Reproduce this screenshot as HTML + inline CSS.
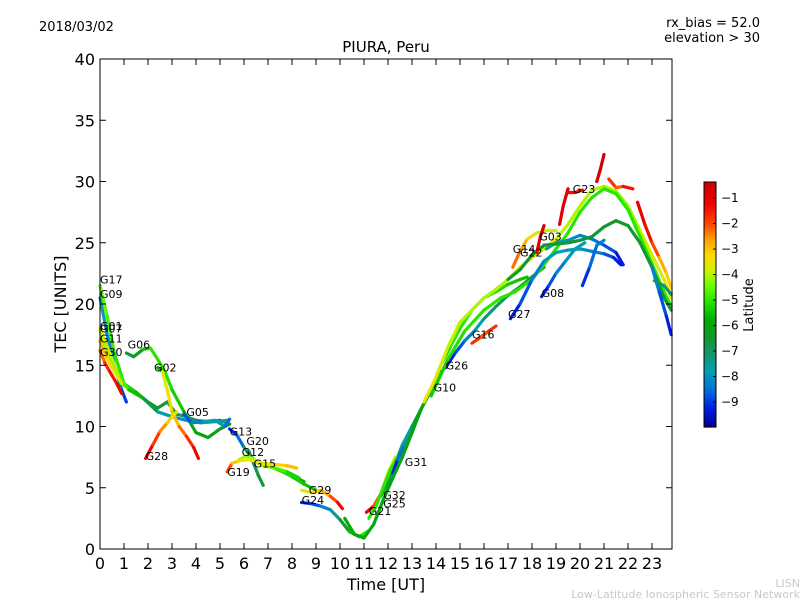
<!DOCTYPE html>
<html><head><meta charset="utf-8">
<style>
body{margin:0;background:#fff;}
svg{display:block;font-family:"DejaVu Sans","Liberation Sans",sans-serif;}
</style></head>
<body>
<svg id="chart" width="800" height="600" xmlns="http://www.w3.org/2000/svg">
<defs>
<linearGradient id="cbgrad" x1="0" y1="1" x2="0" y2="0"></linearGradient>
</defs>
<rect width="800" height="600" fill="#fff"/>
<text x="39" y="31" font-size="13">2018/03/02</text>
<text x="760" y="27" font-size="13" text-anchor="end">rx_bias = 52.0</text>
<text x="760" y="42" font-size="13" text-anchor="end">elevation &gt; 30</text>
<text x="386" y="52" font-size="15" text-anchor="middle">PIURA, Peru</text>
<text x="386" y="590" font-size="16" text-anchor="middle">Time [UT]</text>
<text transform="translate(66,304) rotate(-90)" font-size="16" text-anchor="middle">TEC [UNITS]</text>
<text x="800" y="587" font-size="11" fill="#c8c8c8" text-anchor="end">LISN</text>
<text x="800" y="598" font-size="11" fill="#c8c8c8" text-anchor="end">Low-Latitude Ionospheric Sensor Network</text>
<g id="tracks"></g>
<g id="labels"></g>
<g id="axes"></g>
<g id="cbar"></g>
<text transform="translate(753,305) rotate(-90)" font-size="13" text-anchor="middle">Latitude</text>
</svg>
<script>
const NS="http://www.w3.org/2000/svg";
const xTicks=[0,1,2,3,4,5,6,7,8,9,10,11,12,13,14,15,16,17,18,19,20,21,22,23];
const yTicks=[0,5,10,15,20,25,30,35,40];
const cbTicks=[-1,-2,-3,-4,-5,-6,-7,-8,-9];
const latMin=-9.98, latMax=-0.37;
const trackNames=["G17","G09","G01","G07","G11","G30","G06","G02","G28","G05","G13","G20","G12","G15","G19","G29","G24","G21","G32","G25","G31","G10","G26","G16","Y1","G03","G27","G08","B1","T1","DG","G14","S1","S2","S3","G23","O1","R1","B2","T2"];
const trackTimes=[
[0,0.3,0.6,1,1.5,2,2.4,2.8,3.2,3.6,4,4.5,5,5.4],
[0,0.3,0.6,0.9,1.1],
[0,0.3,0.7,1.0],
[0,0.4,0.8,1.2,1.8,2.4,3,3.6,4.2,4.8,5.3],
[0,0.3,0.6,0.9],
[0,0.2,0.4,0.7,0.9],
[1.1,1.4,1.8,2.1,2.4,2.7,3.0,3.5,4.0,4.5,5.0,5.4],
[2.4,2.6,2.8,3.0,3.3,3.6,3.9,4.1],
[1.9,2.2,2.5,2.8,3.0,3.2],
[3.5,3.8,4.3,4.8,5.2,5.4],
[5.4,5.7,6.0,6.3,6.6,7,7.5,8,8.5],
[6.2,6.4,6.6,6.8],
[5.8,6.1,6.5,7,7.5,8,8.5,9],
[6.3,6.8,7.3,7.8,8.3],
[5.3,5.5,5.8,6.2,6.8,7.3,7.8,8.2],
[8.4,8.8,9.2,9.6,9.9,10.1],
[8.4,8.8,9.2,9.6,10,10.4,10.8,11.2],
[11.1,11.4,11.7,12,12.3],
[11.7,12,12.3,12.6,13],
[11.2,11.5,11.8,12.1,12.4],
[12.2,12.4,12.7,13,13.4,13.8,14.2],
[10.2,10.6,11,11.4,11.8,12.2,12.6,13,13.4,13.8,14.2,14.6,15,15.5,16,16.5,17,17.5,17.8],
[14.4,14.8,15.2,15.6,16,16.5,17,17.5,18,18.5],
[15.5,15.8,16.2,16.5],
[13.5,14,14.5,15,15.5,16,16.5,17,17.5,18,18.5,19,19.5,20,20.5,21,21.5,22,22.5,23,23.5,23.8],
[13.8,14.5,15.2,16,16.7,17.3,18,18.5,19,19.5,20,20.5,21,21.5,22,22.5,23,23.5,23.8],
[17.1,17.5,18,18.5,19,19.5,20,20.5,21,21.4,21.7],
[18.4,18.7,19,19.4,19.8,20.2],
[20.1,20.4,20.7,21],
[18.6,19,19.5,20,20.5,21,21.5,21.8],
[17,17.5,18,18.5,19,19.5,20,20.5,21,21.5,22,22.5,23,23.5,23.8],
[17.2,17.5,17.8,18.2,18.6,19],
[18.2,18.35,18.5],
[19.15,19.3,19.5],
[20.7,20.85,21],
[19.5,19.8,20.1],
[21.2,21.5,21.8,22.2],
[22.4,22.7,23,23.3,23.6,23.8],
[23,23.3,23.6,23.8],
[23.1,23.5,23.8]
];
const trackTec=[
[21.5,19,16,13.5,12.8,12,11.5,12,11,10.8,10.5,10.4,10.5,10.2],
[20.5,17.5,15,13,12],
[18,16.5,14.5,13.3],
[17.8,15.5,14,13,12.3,11.2,10.8,10.5,10.3,10.4,10.5],
[17,15.5,14.5,13.5],
[16.2,15.2,14.5,13.5,12.7],
[16.0,15.7,16.3,16.4,15.5,14.5,13,11.2,9.5,9.1,9.8,10.2],
[14.8,14.5,13,11.2,10,9.2,8.3,7.4],
[7.4,8.5,9.6,10.3,10.8,11.2],
[11.0,10.3,10.4,10.5,10.0,10.6],
[9.8,9.3,8.3,7.5,7,6.8,6.4,6,5.5],
[8.0,7,6,5.2],
[7.3,7.6,7.2,6.8,6.4,5.9,5.3,4.8],
[7.4,6.8,6.6,6.3,5.8],
[6.3,7.0,7.2,7.3,7.0,6.9,6.8,6.6],
[4.8,4.6,4.8,4.3,3.8,3.3],
[3.8,3.7,3.5,3.2,2.4,1.4,1.0,1.5],
[3.0,3.5,4.5,6.2,7.5],
[4.3,5.5,7,8.5,10],
[2.5,3.5,5,6.5,7.5],
[6.2,7.3,8.5,10,11.5,13,14.5],
[2.5,1.2,0.9,2,4,5.8,7.5,9.5,11.5,13,15,16.5,18,19.5,20.5,21,21.6,22,22.2],
[14.8,16,17,17.8,18.8,19.8,20.7,21.4,22.2,23],
[16.8,17.2,17.8,18.2],
[12,14,16.5,18.5,19.5,20.5,21.2,22,23,23.8,24.5,25.3,26.5,28,29.3,29.6,29.2,28,26,24,22,20.5],
[12.5,15.5,17.8,19.5,20.5,21,22,23.2,24.5,25.8,27.5,28.7,29.4,29,27.7,25.5,23.3,21,19.8],
[18.8,20,22,23.5,24.2,24.4,24.5,24.3,24.1,23.8,23.2],
[20.6,21.5,22.5,23.5,24.5,25],
[21.5,23,24.8,25.2],
[24.5,25,25.2,25.6,25.3,24.8,24.2,23.2],
[22,22.8,24,24.8,24.9,25,25.2,25.5,26.3,26.8,26.4,25,23,20.5,19.5],
[23,24.3,25.3,25.8,26,26],
[24.2,25.5,26.4],
[26.5,28,29.4],
[30,31,32.2],
[29.1,29.1,29.3],
[30.2,29.5,29.6,29.4],
[28.3,26.5,25,23.8,22.5,21.3],
[23,21,19,17.5],
[21.9,21.5,20.8]
];
const trackLat=[
[-4.5,-4.5,-5,-5,-5.5,-6,-6.5,-6.5,-7,-7,-7,-6.5,-6.5,-7],
[-7.5,-8,-8,-8.5,-9.3],
[-3.2,-3.5,-4,-4.5],
[-4,-4,-4.5,-5,-6,-7.5,-8,-8,-7.5,-7.5,-7.5],
[-2.8,-3,-3.5,-4],
[-2.5,-2,-1.3,-1.5,-1],
[-6.5,-6.5,-6,-5,-5,-5,-5.2,-5.5,-6,-6,-6,-7],
[-7.5,-4,-3.5,-3.2,-2.5,-2,-1.5,-1],
[-1,-1.5,-2.2,-2.8,-3.3,-3.8],
[-9,-8.5,-8,-7.5,-8,-9],
[-9.3,-9,-8,-6,-5.5,-5.5,-6,-6,-6],
[-7.5,-7,-6.5,-6.5],
[-4,-4,-4.5,-5,-5,-5.2,-5.5,-5.5],
[-3.5,-4,-4.5,-5,-5.5],
[-1.5,-2.5,-3.5,-3.8,-3.5,-3.2,-3,-2.8],
[-4,-3.5,-3,-2.5,-1.5,-1],
[-9.3,-9,-8.5,-8,-7,-6,-5,-5],
[-1,-1.5,-2.5,-3.5,-4],
[-6,-6.5,-7,-7.5,-8],
[-5,-5,-5,-5,-5],
[-9.5,-9,-8,-7,-6.5,-6,-5.5],
[-5.5,-6,-6,-6,-6,-6,-6,-6,-6,-6,-5.5,-5,-5,-5,-5,-5,-5.3,-5.5,-5.5],
[-9.5,-9,-8.5,-8,-7.5,-7,-6.8,-6.5,-6.5,-6.5],
[-1.5,-2,-2,-1.5],
[-3.5,-3.6,-3.8,-4,-4,-4,-4,-4,-3.8,-3.5,-3.5,-3.8,-4,-4,-4,-4,-4.2,-4.2,-4,-3.8,-3.6,-3.5],
[-5.5,-5.2,-5,-5,-5,-5,-5,-5,-5,-5,-5,-5,-5,-5,-5,-5,-5,-5,-5],
[-9.5,-9,-8.5,-8,-7.8,-7.8,-8,-8,-8.5,-9,-9.5],
[-9.5,-9,-8.5,-8,-7.8,-7.8],
[-9.3,-8.8,-8.3,-8],
[-7.5,-7.8,-8,-8,-8.3,-8.5,-9,-9.5],
[-6.3,-6.3,-6.5,-6.5,-6.5,-6.5,-6.5,-6.5,-6.5,-6.5,-6.5,-6.5,-6.5,-6.5,-6.5],
[-2,-2.5,-3,-3.5,-3.8,-4],
[-1,-0.7,-0.5],
[-1,-0.8,-0.6],
[-0.8,-0.6,-0.5],
[-1.3,-1.3,-1.3],
[-1,-2.5,-1.8,-1],
[-1,-1.2,-1.5,-2.5,-3,-3.2],
[-8,-8.5,-9,-9.5],
[-7,-7,-7]
];
const labelText=["G17","G09","G01","G07","G11","G30","G06","G02","G05","G28","G13","G20","G12","G15","G19","G29","G24","G21","G32","G25","G31","G10","G26","G16","G27","G08","G14","G22","G03","G23"];
const labelT=[0,0,0,0,0,0,1.15,2.25,3.6,1.9,5.4,6.1,5.9,6.4,5.3,8.7,8.4,11.2,11.8,11.8,12.7,13.9,14.4,15.5,17.0,18.4,17.2,17.5,18.3,19.7];
const labelTec=[22.0,20.8,18.2,18.0,17.2,16.1,16.7,14.8,11.2,7.6,9.6,8.8,7.9,7.0,6.3,4.8,4.0,3.1,4.4,3.7,7.1,13.2,15.0,17.5,19.2,20.9,24.5,24.2,25.5,29.4];

const X0=100,X1=672,Y0=549,Y1=59;
function xs(t){return X0+24*t;}
function ys(v){return Y0-12.25*v;}
const stops=[[-9.98,[0,0,140]],[-9.2,[0,30,230]],[-8.5,[0,110,220]],[-7.8,[0,160,180]],[-7.1,[20,150,110]],[-6.5,[20,150,50]],[-5.8,[0,170,0]],[-5,[40,230,0]],[-4.4,[110,255,0]],[-3.8,[210,240,0]],[-3.2,[255,215,0]],[-2.6,[255,160,0]],[-2,[255,70,0]],[-1.2,[240,0,0]],[-0.37,[200,0,0]]];
function col(l){
  if(l<=stops[0][0])return "rgb("+stops[0][1]+")";
  for(let i=1;i<stops.length;i++){if(l<=stops[i][0]){const a=stops[i-1],b=stops[i];const f=(l-a[0])/(b[0]-a[0]);
    return "rgb("+a[1].map((c,k)=>Math.round(c+(b[1][k]-c)*f)).join(",")+")";}}
  return "rgb("+stops[stops.length-1][1]+")";
}
const tg=document.getElementById("tracks");
trackNames.forEach((nm,i)=>{
  const g=document.createElementNS(NS,"g");
  
  
  const T=trackTimes[i],V=trackTec[i],L=trackLat[i];
  for(let j=1;j<T.length;j++){
    const ln=document.createElementNS(NS,"line");
    
    
    ln.setAttribute("x1",xs(T[j-1]));ln.setAttribute("y1",ys(V[j-1]));
    ln.setAttribute("x2",xs(T[j]));ln.setAttribute("y2",ys(V[j]));
    ln.setAttribute("stroke",col((L[j-1]+L[j])/2));
    ln.setAttribute("stroke-width","3.2");ln.setAttribute("stroke-linecap","round");
    g.appendChild(ln);
  }
  tg.appendChild(g);
});
const lg=document.getElementById("labels");
labelText.forEach((s,i)=>{
  const t=document.createElementNS(NS,"text");
  
  
  t.setAttribute("x",xs(labelT[i]));t.setAttribute("y",ys(labelTec[i])+4);
  t.setAttribute("font-size","11");t.textContent=s;lg.appendChild(t);
});
const ag=document.getElementById("axes");
function mk(tag,attrs,name){const e=document.createElementNS(NS,tag);for(const k in attrs)e.setAttribute(k,attrs[k]);
  
  
  ag.appendChild(e);return e;}
mk("rect",{x:X0,y:Y1,width:X1-X0,height:Y0-Y1,fill:"none",stroke:"#000","stroke-width":1},"plot-frame");
xTicks.forEach(v=>{const x=xs(v);
  mk("line",{x1:x,y1:Y0,x2:x,y2:Y0-6,stroke:"#000"},"x-tick");
  mk("line",{x1:x,y1:Y1,x2:x,y2:Y1+6,stroke:"#000"},"x-tick-top");
  const t=mk("text",{x:x,y:Y0+20,"font-size":16,"text-anchor":"middle"},"x-tick-label");t.textContent=v;});
yTicks.forEach(v=>{const y=ys(v);
  mk("line",{x1:X0,y1:y,x2:X0+6,y2:y,stroke:"#000"},"y-tick");
  mk("line",{x1:X1,y1:y,x2:X1-6,y2:y,stroke:"#000"},"y-tick-right");
  const t=mk("text",{x:X0-5,y:y+6,"font-size":16,"text-anchor":"end"},"y-tick-label");t.textContent=v;});
// colorbar
const cb=document.getElementById("cbar");
const CX=704,CW=12,CT=182,CB=427;
function cy(l){return CB-(l-latMin)/(latMax-latMin)*(CB-CT);}
for(let k=0;k<120;k++){const l0=latMin+(latMax-latMin)*k/120,l1=latMin+(latMax-latMin)*(k+1)/120;
  const r=document.createElementNS(NS,"rect");
  
  
  r.setAttribute("x",CX);r.setAttribute("y",cy(l1));r.setAttribute("width",CW);r.setAttribute("height",cy(l0)-cy(l1)+0.6);
  r.setAttribute("fill",col((l0+l1)/2));cb.appendChild(r);}
const fr=document.createElementNS(NS,"rect");


fr.setAttribute("x",CX);fr.setAttribute("y",CT);fr.setAttribute("width",CW);fr.setAttribute("height",CB-CT);fr.setAttribute("fill","none");fr.setAttribute("stroke","#000");cb.appendChild(fr);
cbTicks.forEach(v=>{const y=cy(v);
  const a=document.createElementNS(NS,"line");
  
  
  a.setAttribute("x1",CX+CW-3);a.setAttribute("x2",CX+CW);a.setAttribute("y1",y);a.setAttribute("y2",y);a.setAttribute("stroke","#000");cb.appendChild(a);
  const t=document.createElementNS(NS,"text");
  
  
  t.setAttribute("x",CX+CW+5);t.setAttribute("y",y+4);t.setAttribute("font-size","12");t.textContent="\u2212"+Math.abs(v);cb.appendChild(t);});
</script>
</body></html>
